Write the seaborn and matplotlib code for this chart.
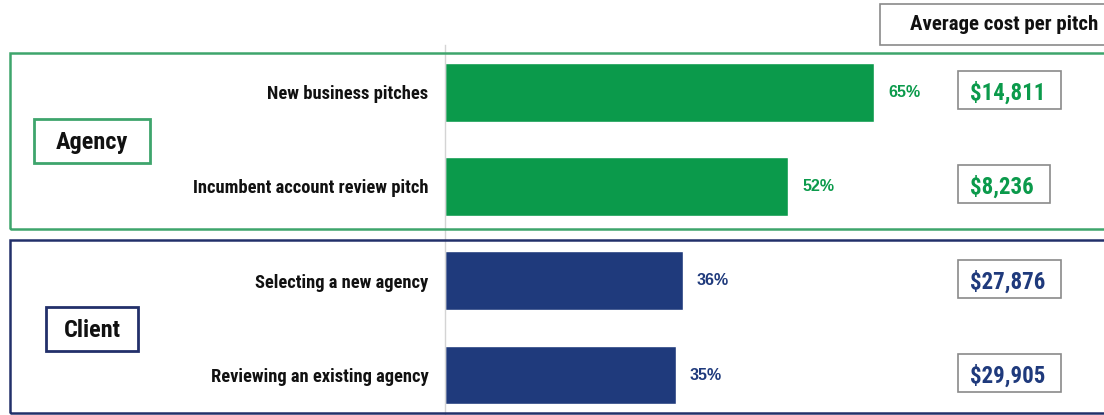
import matplotlib
matplotlib.use("Agg")
import matplotlib.pyplot as plt
from matplotlib import font_manager as fm
from matplotlib.patches import Rectangle
import matplotlib.transforms as mtransforms
import seaborn as sns
import pandas as pd

# Survey data
categories = [
    "New business pitches",
    "Incumbent account review pitch",
    "Selecting a new agency",
    "Reviewing an existing agency",
]
groups = ["Agency", "Agency", "Client", "Client"]
shares = [65, 52, 36, 35]
avg_costs = ["$14,811", "$8,236", "$27,876", "$29,905"]
cost_header = "Average cost per pitch"

GREEN = "#0b9a4b"
NAVY = "#1f3a7c"
palette = {"Agency": GREEN, "Client": NAVY}
edge_colors = {"Agency": "#3ea56c", "Client": "#22306a"}

sns.set_theme(style="white")
installed = {f.name for f in fm.fontManager.ttflist}
narrow = next((n for n in ["Liberation Sans Narrow", "Roboto Condensed", "DejaVu Sans"]
               if n in installed), "DejaVu Sans")
plt.rcParams["font.family"] = [narrow, "DejaVu Sans"]

W, H = 1104, 415
fig = plt.figure(figsize=(W / 100, H / 100), dpi=100)


def fx(px):
    return px / W


def fy(py):
    return 1 - py / H


# axes spans from the header rule down to the bottom edge
ax = fig.add_axes([fx(445), fy(415), fx(1104) - fx(445), fy(45) - fy(415)])

df = pd.DataFrame({"category": categories, "group": groups, "share": shares})
sns.barplot(data=df, x="share", y="category", hue="group", palette=palette,
            orient="h", dodge=False, width=0.625, legend=False, ax=ax,
            saturation=1)

ax.set_xlim(0, 99.8)
ax.set_ylim(3.424, -0.5)
ax.set_xlabel("")
ax.set_ylabel("")
ax.set_xticks([])
for s in ["top", "right", "bottom"]:
    ax.spines[s].set_visible(False)
ax.spines["left"].set_color("#d4d4d4")
ax.spines["left"].set_linewidth(1.0)
ax.tick_params(axis="y", length=0, pad=12)
for lbl in ax.get_yticklabels():
    lbl.set_fontfamily([narrow, "DejaVu Sans"])
    lbl.set_fontweight("bold")
    lbl.set_fontsize(13.3)
    lbl.set_color("#111111")

# percentage labels next to the bars
for i, (v, g) in enumerate(zip(shares, groups)):
    ax.text(v + 2.1, i, f"{v}%", va="center", ha="left",
            fontsize=11.5, fontweight="bold", color=palette[g],
            family=["Liberation Sans", "DejaVu Sans"])

# average cost values on the right, each in a grey frame
tr = mtransforms.blended_transform_factory(fig.transFigure, ax.transData)
cost_texts = []
for i, (c, g) in enumerate(zip(avg_costs, groups)):
    t = ax.text(fx(970), i + 0.01, c, transform=tr, ha="left", va="center",
                fontsize=16.5, fontweight="bold", color=palette[g],
                clip_on=False, zorder=5)
    cost_texts.append(t)

# header for the cost column
fig.patches.append(Rectangle((fx(880), fy(45)), fx(1110) - fx(880), fy(4) - fy(45),
                             transform=fig.transFigure, facecolor="white",
                             edgecolor="#8a8a8a", linewidth=1.2))
fig.text(fx(1098), fy(25), cost_header, ha="right", va="center",
         fontsize=15, fontweight="bold", color="#111111")

# group frames
frames = {"Agency": (10, 53, 229), "Client": (10, 240, 413)}
for g, (x0, y0, y1) in frames.items():
    fig.patches.append(Rectangle((fx(x0), fy(y1)), fx(1120) - fx(x0), fy(y0) - fy(y1),
                                 transform=fig.transFigure, facecolor="none",
                                 edgecolor=edge_colors[g], linewidth=1.8,
                                 zorder=0.5))

# group name badges
badges = {"Agency": (34, 119, 150, 163), "Client": (46, 307, 138, 351)}
for g, (x0, y0, x1, y1) in badges.items():
    fig.patches.append(Rectangle((fx(x0), fy(y1)), fx(x1) - fx(x0), fy(y0) - fy(y1),
                                 transform=fig.transFigure, facecolor="white",
                                 edgecolor=edge_colors[g], linewidth=2.0))
    fig.text(fx((x0 + x1) / 2), fy((y0 + y1) / 2 + 1), g, ha="center", va="center",
             fontsize=17.5, fontweight="bold", color="#111111")

# frames around the cost values, sized from the rendered text
fig.canvas.draw()
renderer = fig.canvas.get_renderer()
for i, t in enumerate(cost_texts):
    ext = t.get_window_extent(renderer)
    yc = ax.transData.transform((0, i))[1] + 2
    x0 = ext.x0 - 12
    x1 = ext.x1 + 16
    fig.patches.append(Rectangle((x0 / W, (yc - 19) / H), (x1 - x0) / W, 38 / H,
                                 transform=fig.transFigure, facecolor="none",
                                 edgecolor="#8a8a8a", linewidth=1.2, zorder=1))

fig.savefig("out.png", dpi=100, facecolor="white")
